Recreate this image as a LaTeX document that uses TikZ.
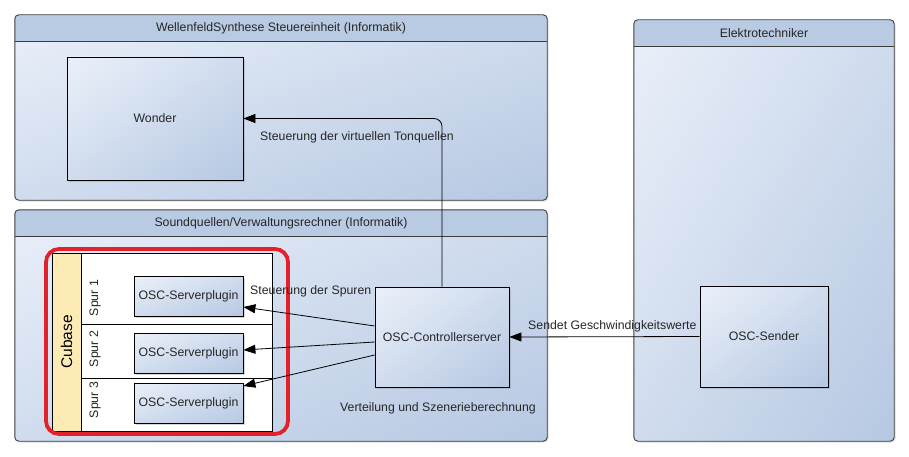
\documentclass[tikz,border=0pt]{standalone}
\usepackage{fontspec}
\setmainfont{Liberation Sans}
\usetikzlibrary{arrows.meta, positioning, shadows, shadings}
\definecolor{laneLight}{HTML}{EAF0F9}
\definecolor{laneMid}{HTML}{D0DCEE}
\definecolor{laneDark}{HTML}{B6C8E2}
\definecolor{headFill}{HTML}{B9CAE3}
\definecolor{laneBorder}{HTML}{3C3C3C}
\definecolor{cubaseFill}{HTML}{FDEBB6}
\definecolor{markRed}{HTML}{E2222A}
% swimlane: name, centre, width, height, title
\newcommand{\lane}[5]{%
  \node[LaneBody, minimum width=#3, minimum height=#4] (#1) at #2 {};
  \begin{scope}
    \clip[rounded corners=4pt] (#1.north west) rectangle (#1.south east);
    \fill[headFill] (#1.north west) rectangle ([yshift=-27pt]#1.north east);
  \end{scope}
  \draw[laneBorder, line width=0.7pt] ([yshift=-27pt]#1.north west) -- ([yshift=-27pt]#1.north east);
  \draw[laneBorder, line width=0.9pt, rounded corners=4pt] (#1.north west) rectangle (#1.south east);
  \node[Txt] (#1-title) at ([yshift=-13.5pt]#1.north) {#5};
}

\begin{document}
\begin{tikzpicture}
  [
    x=1pt, y=-1pt,
    Txt/.style={font=\fontsize{12.3}{14}\selectfont, text=black!85, inner sep=1pt},
    LaneBody/.style={rectangle, rounded corners=4pt, upper left=laneLight, upper right=laneMid,
      lower left=laneMid, lower right=laneDark,
      drop shadow={opacity=0.25, shadow xshift=1.5pt, shadow yshift=-1.5pt}},
    Box/.style={rectangle, draw=black, line width=0.8pt, upper left=laneLight, upper right=laneMid,
      lower left=laneMid, lower right=laneDark, Txt,
      drop shadow={opacity=0.3, shadow xshift=2pt, shadow yshift=-2pt}},
    Track/.style={rectangle, draw=black, line width=0.8pt, fill=white, minimum width=191pt},
    Flow/.style={{Triangle[length=12pt, width=9pt]}-, draw, line width=0.8pt}
  ]
  \useasboundingbox (0,0) rectangle (909,457);
  % Lanes
  \lane{wfs}{(281,107.5)}{532pt}{185pt}{WellenfeldSynthese Steuereinheit (Informatik)}
  \lane{sound}{(281,325.5)}{532pt}{231pt}{Soundquellen/Verwaltungsrechner (Informatik)}
  \lane{etech}{(764,230.5)}{260pt}{421pt}{Elektrotechniker}
  % Cubase with tracks
  \node[rectangle, draw=black, line width=0.8pt, fill=cubaseFill, rotate=90, minimum width=178pt,
    minimum height=29pt, font=\fontsize{15.5}{17}\selectfont] (cubase) at (66.5,342) {Cubase};
  \node[Track, minimum height=71pt] (spur1) at (176.5,288.5) {};
  \node[Track, minimum height=54pt] (spur2) at (176.5,351) {};
  \node[Track, minimum height=53pt] (spur3) at (176.5,404.5) {};
  \node[Txt, rotate=90] (spur1-label) at (95,298) {Spur 1};
  \node[Txt, rotate=90] (spur2-label) at (95,349) {Spur 2};
  \node[Txt, rotate=90] (spur3-label) at (95,400) {Spur 3};
  \draw[markRed, line width=3.8pt, rounded corners=13pt] (46,249) rectangle (288,434);
  % Nodes
  \node[Box, minimum width=176pt, minimum height=123pt] (wonder) at (155,118.5) {Wonder};
  \node[Box, minimum width=109pt, minimum height=40pt] (plugin1) at (188.5,296) {OSC-Serverplugin};
  \node[Box, minimum width=109pt, minimum height=40pt] (plugin2) at (188.5,353) {OSC-Serverplugin};
  \node[Box, minimum width=109pt, minimum height=40pt] (plugin3) at (188.5,403) {OSC-Serverplugin};
  \node[Box, minimum width=134pt, minimum height=100pt] (ctrl) at (442,337) {OSC-Controllerserver};
  \node[Box, minimum width=128pt, minimum height=101pt] (sender) at (764,336.5) {OSC-Sender};
  % Lines
  \path [Flow, rounded corners=8pt] (wonder.east) -| (ctrl.north);
  \path [Flow] ([yshift=-11pt]plugin1.east) -- ([yshift=11pt]ctrl.west);
  \path [Flow] ([yshift=3pt]plugin2.east) -- ([yshift=-5pt]ctrl.west);
  \path [Flow] ([yshift=17pt]plugin3.east) -- ([yshift=-18pt]ctrl.west);
  \path [Flow] (ctrl.east) -- (sender.west);
  % Labels
  \node[Txt, anchor=west] (tonquellen) at (259,137) {Steuerung der virtuellen Tonquellen};
  \node[Txt, anchor=west] (spuren) at (249,291) {Steuerung der Spuren};
  \node[Txt, anchor=west] (szenerie) at (339,408) {Verteilung und Szenerieberechnung};
  \node[Txt, anchor=west] (werte) at (527,326) {Sendet Geschwindigkeitswerte};
\end{tikzpicture}
\end{document}
